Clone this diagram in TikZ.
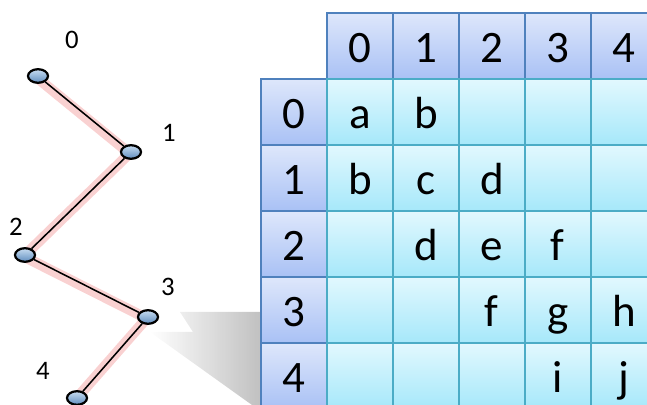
\documentclass[tikz,border=0pt]{standalone}
\usepackage{fontspec}
\setmainfont{Carlito}
\usetikzlibrary{shapes.geometric,backgrounds}
\definecolor{hdrtop}{HTML}{DEE7FB}
\definecolor{hdrbot}{HTML}{A9C1F5}
\definecolor{hdrline}{HTML}{4F81BD}
\definecolor{celltop}{HTML}{E2F8FE}
\definecolor{cellbot}{HTML}{A6E8FA}
\definecolor{cellline}{HTML}{4BACC6}
\definecolor{balltop}{HTML}{C8DDF2}
\definecolor{ballbot}{HTML}{5F8DBE}
\definecolor{glowred}{HTML}{F29A9A}
\tikzset{
    hdrcell/.style={rectangle, draw=hdrline, line width=1.2pt, top color=hdrtop, bottom color=hdrbot,
        minimum width=1.65cm, minimum height=1.65cm, anchor=north west, inner sep=0pt,
        font=\fontsize{32}{38}\selectfont, text height=24pt, text depth=0pt},
    datacell/.style={hdrcell, draw=cellline, top color=celltop, bottom color=cellbot},
    vertex/.style={ellipse, draw=black, line width=1.6pt, top color=balltop, bottom color=ballbot,
        minimum width=0.5cm, minimum height=0.34cm, inner sep=0pt},
    vlabel/.style={font=\fontsize{19}{22}\selectfont, inner sep=0pt},
    glow/.style={line width=0.26cm, glowred, opacity=0.45, line cap=round},
    edge/.style={line width=1.1pt, black}
}
\begin{document}
\begin{tikzpicture}[x=0.025cm, y=-0.025cm]
    \useasboundingbox (0,0) rectangle (647,405);
    \clip (0,0) rectangle (647,405);
    %draw shadow of the table
    \shade[left color=white, right color=gray!55, opacity=0.9]
        (180,312) -- (262,312) -- (262,405) -- (252,405) -- (150,332) -- (193,332) -- cycle;
    %draw column and row headers
    \foreach \i in {0,1,...,4}
        {%
            \node[hdrcell] (h\i) at ({326+66*\i},12) {\i};
            \node[hdrcell] (r\i) at (260,{78+66*\i}) {\i};
        }
    %draw table entries
    \foreach \rowtxt [count=\j from 0] in {{a,b,{},{},{}},{b,c,d,{},{}},{{},d,e,f,{}},{{},{},f,g,h},{{},{},{},i,j}}
        {%
            \foreach \t [count=\i from 0] in \rowtxt
                {%
                    \node[datacell] (c-\i-\j) at ({326+66*\i},{78+66*\j}) {\t};
                }
        }
    %draw vertices
    \node[vertex] (v0) at (38,76) {};
    \node[vertex] (v1) at (131,152) {};
    \node[vertex] (v2) at (25,255) {};
    \node[vertex] (v3) at (148,317) {};
    \node[vertex] (v4) at (77,398) {};
    \node[vlabel] (l0) at (72,40) {0};
    \node[vlabel] (l1) at (169,133) {1};
    \node[vlabel] (l2) at (16,227) {2};
    \node[vlabel] (l3) at (168,287) {3};
    \node[vlabel] (l4) at (43,371) {4};
    %draw lines
    \begin{pgfonlayer}{background}
        \draw[glow, transform canvas={xshift=-1pt, yshift=-1pt}] (v0.center) -- (v1.center) -- (v2.center) -- (v3.center) -- (v4.center);
        \draw[edge] (v0) -- (v1) -- (v2) -- (v3) -- (v4);
    \end{pgfonlayer}
\end{tikzpicture}
\end{document}
